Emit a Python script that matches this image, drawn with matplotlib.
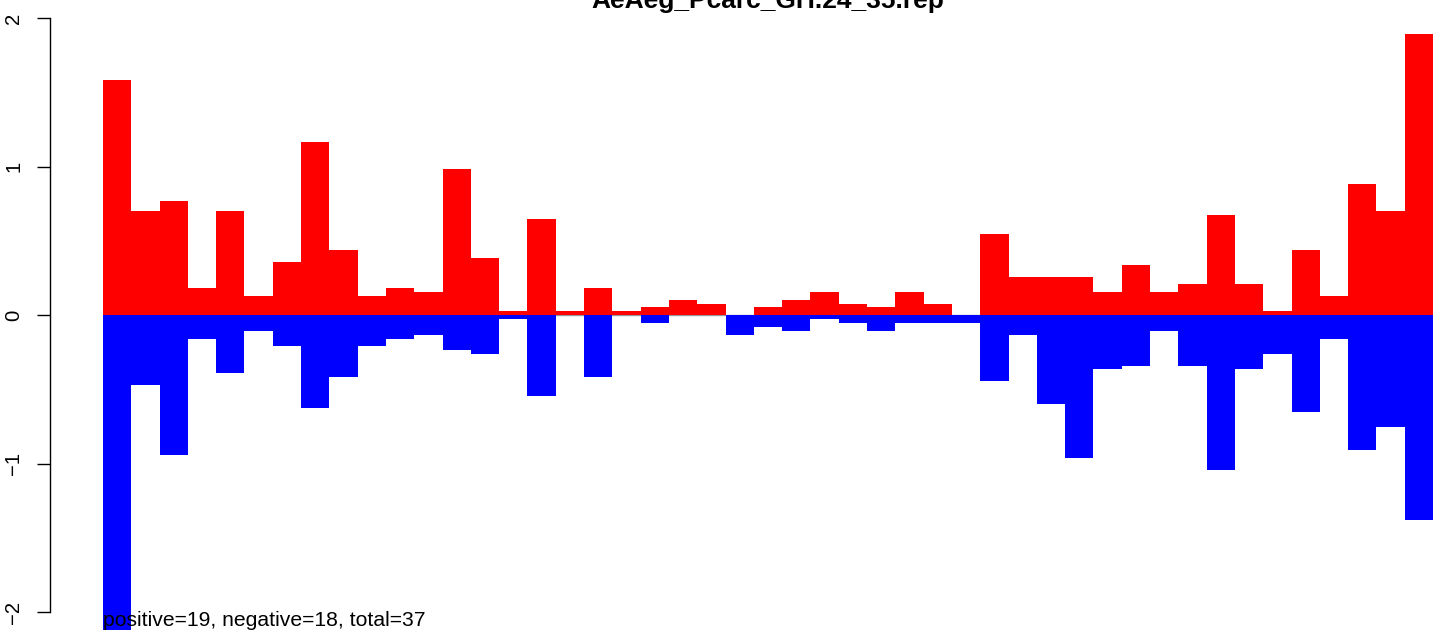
import matplotlib
matplotlib.use("Agg")
import matplotlib.pyplot as plt
import numpy as np

plt.rcParams['font.family'] = ['Liberation Sans', 'DejaVu Sans']

title = "AeAeg_Pcarc_GH.24_35.rep"
note = "positive=19, negative=18, total=37"

positive = [1.58, 0.70, 0.77, 0.18, 0.70, 0.125, 0.36, 1.165, 0.436, 0.125,
            0.18, 0.152, 0.98, 0.387, 0.026, 0.645, 0.026, 0.18, 0.026, 0.054,
            0.10, 0.074, 0.0, 0.054, 0.10, 0.155, 0.074, 0.054, 0.155, 0.074,
            0.0, 0.545, 0.256, 0.256, 0.256, 0.155, 0.337, 0.155, 0.209, 0.673,
            0.209, 0.027, 0.438, 0.128, 0.882, 0.700, 1.892]
negative = [-2.12, -0.472, -0.94, -0.163, -0.393, -0.11, -0.21, -0.627, -0.42, -0.21,
            -0.163, -0.136, -0.236, -0.262, -0.026, -0.548, 0.0, -0.418, 0.0, -0.054,
            0.0, 0.0, -0.135, -0.081, -0.108, -0.027, -0.054, -0.108, -0.054, -0.054,
            -0.054, -0.444, -0.135, -0.599, -0.963, -0.364, -0.343, -0.108, -0.343, -1.044,
            -0.364, -0.263, -0.653, -0.162, -0.909, -0.754, -1.380]
yticks = [-2, -1, 0, 1, 2]

W, H = 1441, 634
fig = plt.figure(figsize=(W / 100, H / 100), dpi=100)
ax_left, ax_right, ax_top, ax_bottom = 50, 1433, 18, 612
ax = fig.add_axes([ax_left / W, (H - ax_bottom) / H, (ax_right - ax_left) / W, (ax_bottom - ax_top) / H])

n = len(positive)
x = np.arange(n)
ax.hlines(0, 0, n, color='#999999', lw=1, zorder=0.5)
ax.bar(x, positive, width=1.0, align='edge', color='#ff0000', linewidth=0, clip_on=False, zorder=2)
ax.bar(x, negative, width=1.0, align='edge', color='#0000ff', linewidth=0, clip_on=False, zorder=2)

ax.set_ylim(-2, 2)
ax.set_xlim(-(103 - ax_left) / 28.298, n)
for s in ['top', 'right', 'bottom']:
    ax.spines[s].set_visible(False)
ax.spines['left'].set_linewidth(1)
ax.set_xticks([])
ax.set_yticks(yticks)
ax.set_yticklabels([str(t).replace('-', '\u2212') for t in yticks], rotation=90, va='center', fontsize=14.6)
ax.tick_params(axis='y', length=9.4, width=1, pad=10)

fig.text(768 / W, 1 - 8 / H, title, ha='center', va='baseline', fontsize=19, fontweight='bold')
fig.text(103 / W, (H - 626) / H, note, ha='left', va='baseline', fontsize=15.2, zorder=5)

fig.savefig('out.png', dpi=100)
